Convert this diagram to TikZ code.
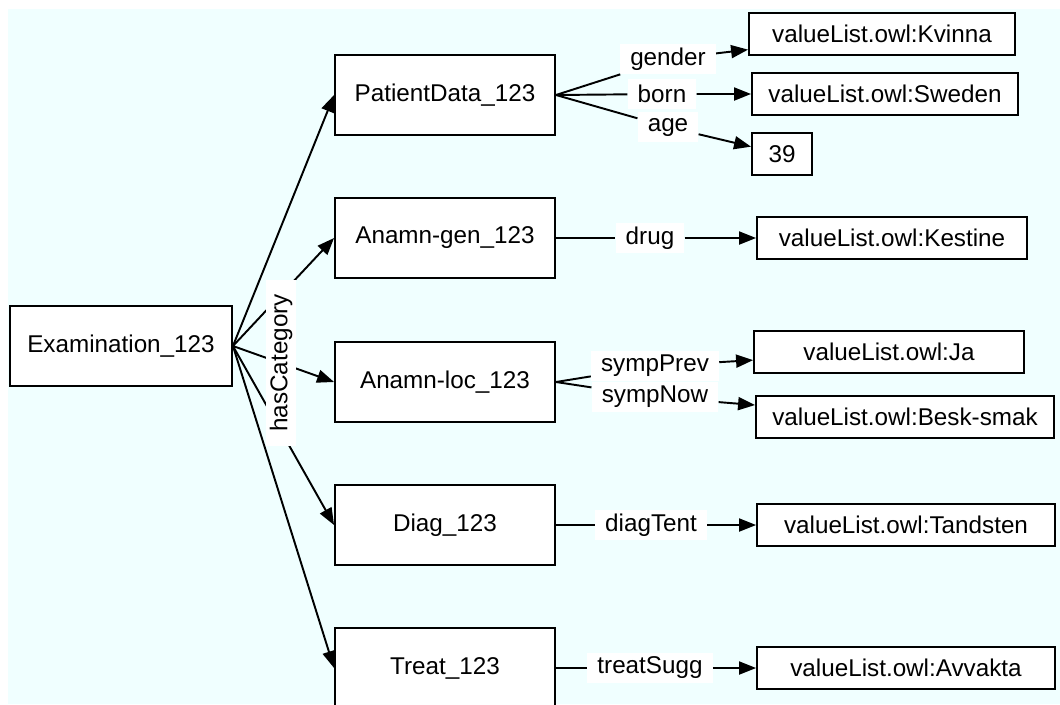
\documentclass[tikz,border=0pt]{standalone}
\usepackage{fontspec}
\setmainfont{Liberation Sans}
\usetikzlibrary{arrows.meta}
\definecolor{bgazure}{RGB}{240,255,255}
\tikzset{
  catbox/.style={draw,fill=white,line width=1.1pt,minimum width=4.4cm,minimum height=1.6cm,inner sep=0pt},
  valbox/.style={draw,fill=white,line width=1.1pt,minimum height=0.84cm,inner sep=0pt},
  lbl/.style={fill=white,inner xsep=0.2cm,inner ysep=0pt,minimum height=0.6cm},
  rel/.style={line width=1.1pt,-{Triangle[length=0.34cm,width=0.26cm]}},
}
\begin{document}
\begin{tikzpicture}[x=0.02cm,y=-0.02cm,font=\fontsize{13.8}{16}\selectfont]
\useasboundingbox (0,0) rectangle (1060,704);
\fill[bgazure] (8,9) rectangle (1060,704);
% classes
\node[catbox,minimum width=4.44cm] (exam) at (121,346) {Examination\_123};
\node[catbox] (pd) at (445,95) {PatientData\_123};
\node[catbox] (ag) at (445,238) {Anamn-gen\_123};
\node[catbox] (al) at (445,382) {Anamn-loc\_123};
\node[catbox] (dg) at (445,525) {Diag\_123};
\node[catbox] (tr) at (445,668) {Treat\_123};
% values
\node[valbox,minimum width=5.32cm] (kvinna) at (882,34) {valueList.owl:Kvinna};
\node[valbox,minimum width=5.32cm] (sweden) at (885,94) {valueList.owl:Sweden};
\node[valbox,minimum width=1.2cm] (age39) at (782,154) {39};
\node[valbox,minimum width=5.4cm] (kestine) at (892,238) {valueList.owl:Kestine};
\node[valbox,minimum width=5.4cm] (ja) at (889,352) {valueList.owl:Ja};
\node[valbox,minimum width=5.96cm] (besk) at (905,417) {valueList.owl:Besk-smak};
\node[valbox,minimum width=5.96cm] (tandsten) at (906,525) {valueList.owl:Tandsten};
\node[valbox,minimum width=5.96cm] (avvakta) at (906,668) {valueList.owl:Avvakta};
% property labels
\node[lbl] (lgender) at (668,59) {gender};
\node[lbl] (lborn) at (662,94) {born};
\node[lbl] (lage) at (668,127) {age};
\node[lbl] (ldrug) at (650,238) {drug};
\node[lbl] (lprev) at (655,366) {sympPrev};
\node[lbl] (lnow) at (655,397) {sympNow};
\node[lbl] (ltent) at (651,525) {diagTent};
\node[lbl] (lsugg) at (650,668) {treatSugg};
% edges
\foreach \c in {pd,ag,al,dg,tr}
  \draw[rel] (exam.east) -- (\c.west);
\node[lbl,rotate=90,inner xsep=0.28cm] (hascat) at (281,363) {hasCategory};
\draw[rel] (pd.east) -- (lgender) -- (kvinna);
\draw[rel] (pd.east) -- (lborn) -- (sweden);
\draw[rel] (pd.east) -- (lage) -- (age39);
\draw[rel] (ag.east) -- (ldrug) -- (kestine);
\draw[rel] (al.east) -- (lprev) -- (ja);
\draw[rel] (al.east) -- (lnow) -- (besk);
\draw[rel] (dg.east) -- (ltent) -- (tandsten);
\draw[rel] (tr.east) -- (lsugg) -- (avvakta);
\end{tikzpicture}
\end{document}
